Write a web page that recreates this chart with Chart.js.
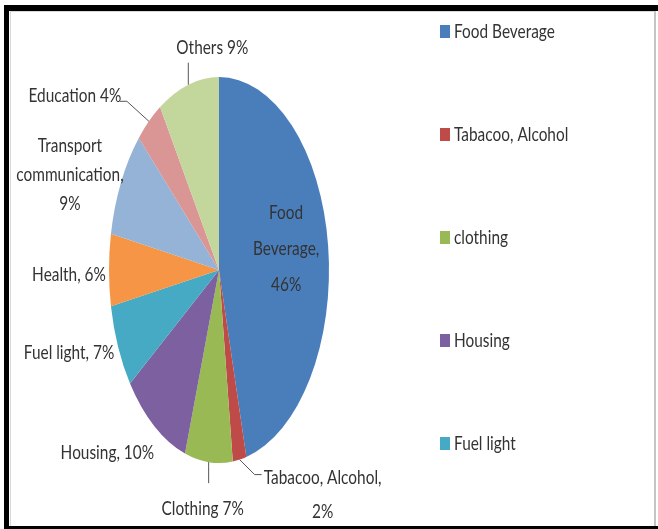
<!DOCTYPE html>
<html lang="en">
<head>
    <meta charset="UTF-8">
    <title>Expenditure shares</title>
    <script src="https://cdn.jsdelivr.net/npm/chart.js@4.4.1/dist/chart.umd.min.js"></script>
	<style>
		body, html {
            margin: 0;
            padding: 0;
            background: #fff;
        }
        .frame {
            position: absolute;
            left: 4px; top: 5px; right: 0; bottom: 0;
            border-top: 6px solid #000;
            border-left: 5px solid #000;
            border-bottom: 3px solid #000;
        }
        .inner {
            position: absolute;
            left: 10px; top: 11px;
            width: 643px; bottom: 3px;
            border-top: 1px solid #d8d8d8;
            border-left: 1px solid #d8d8d8;
            border-right: 2px solid #c4c4c4;
        }
        canvas {
            position: absolute;
            left: 0; top: 0;
            display: block;
        }
    </style>
</head>
<body>
    <div class="frame"></div>
    <div class="inner"></div>
    <canvas id="pieChart" width="658" height="529"></canvas>

    <script>
        // data
        const categories = ['Food Beverage', 'Tabacoo, Alcohol', 'clothing', 'Housing', 'Fuel light',
                            'Health', 'Transport communication', 'Education', 'Others'];
        const shares = [46, 2, 7, 10, 7, 6, 9, 4, 9];
        const labelNames = ['Food\nBeverage,\n', 'Tabacoo, Alcohol,\n', 'Clothing ', 'Housing, ', 'Fuel light, ',
                            'Health, ', 'Transport\ncommunication,\n', 'Education ', 'Others '];
        const colors = ['#4A7EBB', '#BE4B48', '#98B954', '#7D60A0', '#46AAC5',
                        '#F59545', '#94B3D6', '#DA9694', '#C3D69B'];
        const legendCount = 5;   // only the first five fit in the legend

        // label placement, relative to the slice edge at its middle angle
        const labelLayout = [
            {dx: -42, dy: 3, lh: 36},
            {dx: 83, dy: 35, lh: 34, leader: [[15, 15], [22, 15]]},
            {dx: -6, dy: 46, lh: 30, leader: [[0, 4], [0, 21]]},
            {dx: -47, dy: 26, lh: 30},
            {dx: -49, dy: 6, lh: 30},
            {dx: -40, dy: 5, lh: 30},
            {dx: -51, dy: -8, lh: 29},
            {dx: -74, dy: -26, lh: 30, leader: [[-22, -20], [-29, -20]]},
            {dx: 24, dy: -37, lh: 30, leader: [[0, -22]]}
        ];

        const squeeze = 110 / 193;    // the pie in the picture is an ellipse
        const textSqueeze = 0.77;
        const fontSpec = '20px Lato, "Open Sans", sans-serif';
        const textColor = '#333';

        function drawText(ctx, text, x, y) {
            ctx.save();
            ctx.translate(x, y);
            ctx.scale(textSqueeze, 1);
            ctx.fillText(text, 0, 0);
            ctx.restore();
        }

        const ellipsePlugin = {
            id: 'ellipse',
            beforeDatasetsDraw(chart) {
                const arc = chart.getDatasetMeta(0).data[0];
                const ctx = chart.ctx;
                ctx.save();
                ctx.translate(arc.x, 0);
                ctx.scale(squeeze, 1);
                ctx.translate(-arc.x, 0);
            },
            afterDatasetsDraw(chart) {
                const ctx = chart.ctx;
                ctx.restore();

                // data labels + leader lines
                ctx.save();
                ctx.font = fontSpec;
                ctx.fillStyle = textColor;
                ctx.textAlign = 'center';
                ctx.textBaseline = 'middle';
                ctx.strokeStyle = '#555';
                ctx.lineWidth = 1;
                chart.getDatasetMeta(0).data.forEach((arc, i) => {
                    const a = (arc.startAngle + arc.endAngle) / 2;
                    const ex = arc.x + squeeze * arc.outerRadius * Math.cos(a);
                    const ey = arc.y + arc.outerRadius * Math.sin(a);
                    const lay = labelLayout[i];
                    if (lay.leader) {
                        ctx.beginPath();
                        ctx.moveTo(ex, ey);
                        lay.leader.forEach(p => ctx.lineTo(ex + p[0], ey + p[1]));
                        ctx.stroke();
                    }
                    const lines = (labelNames[i] + shares[i] + '%').split('\n');
                    const top = ey + lay.dy - (lines.length - 1) * lay.lh / 2;
                    lines.forEach((line, k) => drawText(ctx, line, ex + lay.dx, top + k * lay.lh));
                });
                ctx.restore();
            },
            afterDraw(chart) {
                // legend on the right, first items only
                const ctx = chart.ctx;
                ctx.save();
                ctx.font = fontSpec;
                ctx.textAlign = 'left';
                ctx.textBaseline = 'middle';
                for (let i = 0; i < legendCount; i++) {
                    const y = 32 + i * 103;
                    ctx.fillStyle = colors[i];
                    ctx.fillRect(440, y - 7, 10, 13);
                    ctx.fillStyle = textColor;
                    drawText(ctx, categories[i], 454, y);
                }
                ctx.restore();
            }
        };

        const context = document.getElementById('pieChart').getContext('2d');

        const pieChart = new Chart(context, {
            type: 'pie',
            data: {
                labels: categories,
                datasets: [{
                    data: shares,
                    backgroundColor: colors,
                    borderWidth: 0
                }]
            },
            options: {
                responsive: false,
                animation: false,
                events: [],
                layout: {
                    padding: {top: 77, bottom: 66, left: 26, right: 246}
                },
                plugins: {
                    legend: {display: false},
                    tooltip: {enabled: false}
                }
            },
            plugins: [ellipsePlugin]
        });
    </script>
</body>
</html>
